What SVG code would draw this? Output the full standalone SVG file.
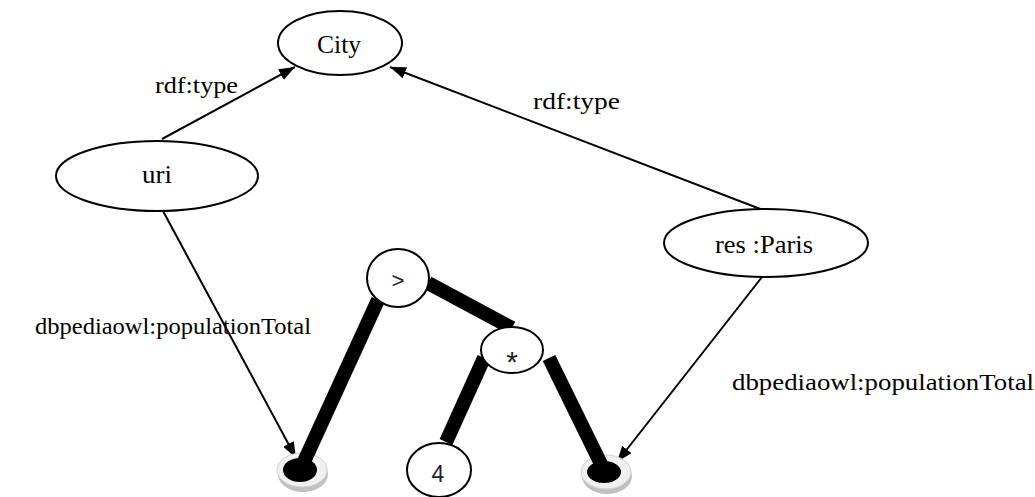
<svg xmlns="http://www.w3.org/2000/svg" width="1035" height="497" viewBox="0 0 1035 497">
<style>
.node{fill:#fff;stroke:#000;stroke-width:2}
.lbl{font-family:'Liberation Serif','Times New Roman',serif;font-size:26px;fill:#000}
.elbl{font-family:'Liberation Serif','Times New Roman',serif;font-size:24px;fill:#000}
.op{font-family:'Liberation Sans',Arial,sans-serif;fill:#222}
.edge{stroke:#000;stroke-width:2;fill:none}
.bar{stroke:#000;stroke-width:14;stroke-linecap:butt}
.ring{fill:#f0f0f0;stroke:#d0d0d0;stroke-width:1}
.shadow{fill:#c0c0c0}
</style>
<defs>
<marker id="arr" markerUnits="userSpaceOnUse" markerWidth="18" markerHeight="14" refX="16" refY="6" orient="auto">
<path d="M0,0 L16,6 L0,12 Z" fill="#000"/>
</marker>
</defs>
<g id="connectors">
<line class="edge" x1="162" y1="139" x2="295" y2="67" marker-end="url(#arr)"/>
<line class="edge" x1="763" y1="210" x2="390" y2="67" marker-end="url(#arr)"/>
<line class="edge" x1="163" y1="211" x2="296" y2="458" marker-end="url(#arr)"/>
<line class="edge" x1="762" y1="277" x2="617" y2="462" marker-end="url(#arr)"/>
<text class="elbl" x="155" y="93" textLength="83" lengthAdjust="spacingAndGlyphs">rdf:type</text>
<text class="elbl" x="533" y="109" textLength="87" lengthAdjust="spacingAndGlyphs">rdf:type</text>
<text class="elbl" x="35" y="334" textLength="276" lengthAdjust="spacingAndGlyphs">dbpediaowl:populationTotal</text>
<text class="elbl" x="732" y="390" textLength="302" lengthAdjust="spacingAndGlyphs">dbpediaowl:populationTotal</text>
</g>
<g id="dot-left">
<ellipse class="shadow" cx="303" cy="474" rx="25" ry="18"/>
<ellipse class="ring" cx="302" cy="470" rx="25" ry="17"/>
<ellipse cx="300" cy="470" rx="17" ry="12" fill="#000"/>
</g>
<g id="dot-right">
<ellipse class="shadow" cx="607" cy="476" rx="25" ry="18"/>
<ellipse class="ring" cx="606" cy="472" rx="25" ry="17"/>
<ellipse cx="604" cy="472" rx="17" ry="11" fill="#000"/>
</g>
<g id="bars">
<line class="bar" x1="378" y1="300" x2="302" y2="466"/>
<line class="bar" x1="428" y1="283" x2="512" y2="328"/>
<line class="bar" x1="484" y1="358" x2="446" y2="442"/>
<line class="bar" x1="549" y1="358" x2="602" y2="466"/>
</g>
<g id="node-city">
<ellipse class="node" cx="340" cy="43" rx="62" ry="32"/>
<text class="lbl" x="339" y="53" text-anchor="middle" textLength="44" lengthAdjust="spacingAndGlyphs">City</text>
</g>
<g id="node-uri">
<ellipse class="node" cx="157" cy="176" rx="101" ry="35"/>
<text class="lbl" x="157" y="183" text-anchor="middle" textLength="30" lengthAdjust="spacingAndGlyphs">uri</text>
</g>
<g id="node-paris">
<ellipse class="node" cx="766" cy="243" rx="102" ry="34"/>
<text class="lbl" x="764" y="253" text-anchor="middle" textLength="98" lengthAdjust="spacingAndGlyphs">res :Paris</text>
</g>
<g id="node-gt">
<ellipse class="node" cx="398" cy="278" rx="31" ry="29"/>
<text class="op" x="398" y="288" text-anchor="middle" font-size="22">&gt;</text>
</g>
<g id="node-mul">
<ellipse class="node" cx="512" cy="350" rx="31" ry="23"/>
<text class="op" x="512" y="372" text-anchor="middle" font-size="30">*</text>
</g>
<g id="node-4">
<ellipse class="node" cx="439" cy="470" rx="32" ry="27"/>
<text class="op" x="438" y="482" text-anchor="middle" font-size="23">4</text>
</g>
</svg>
